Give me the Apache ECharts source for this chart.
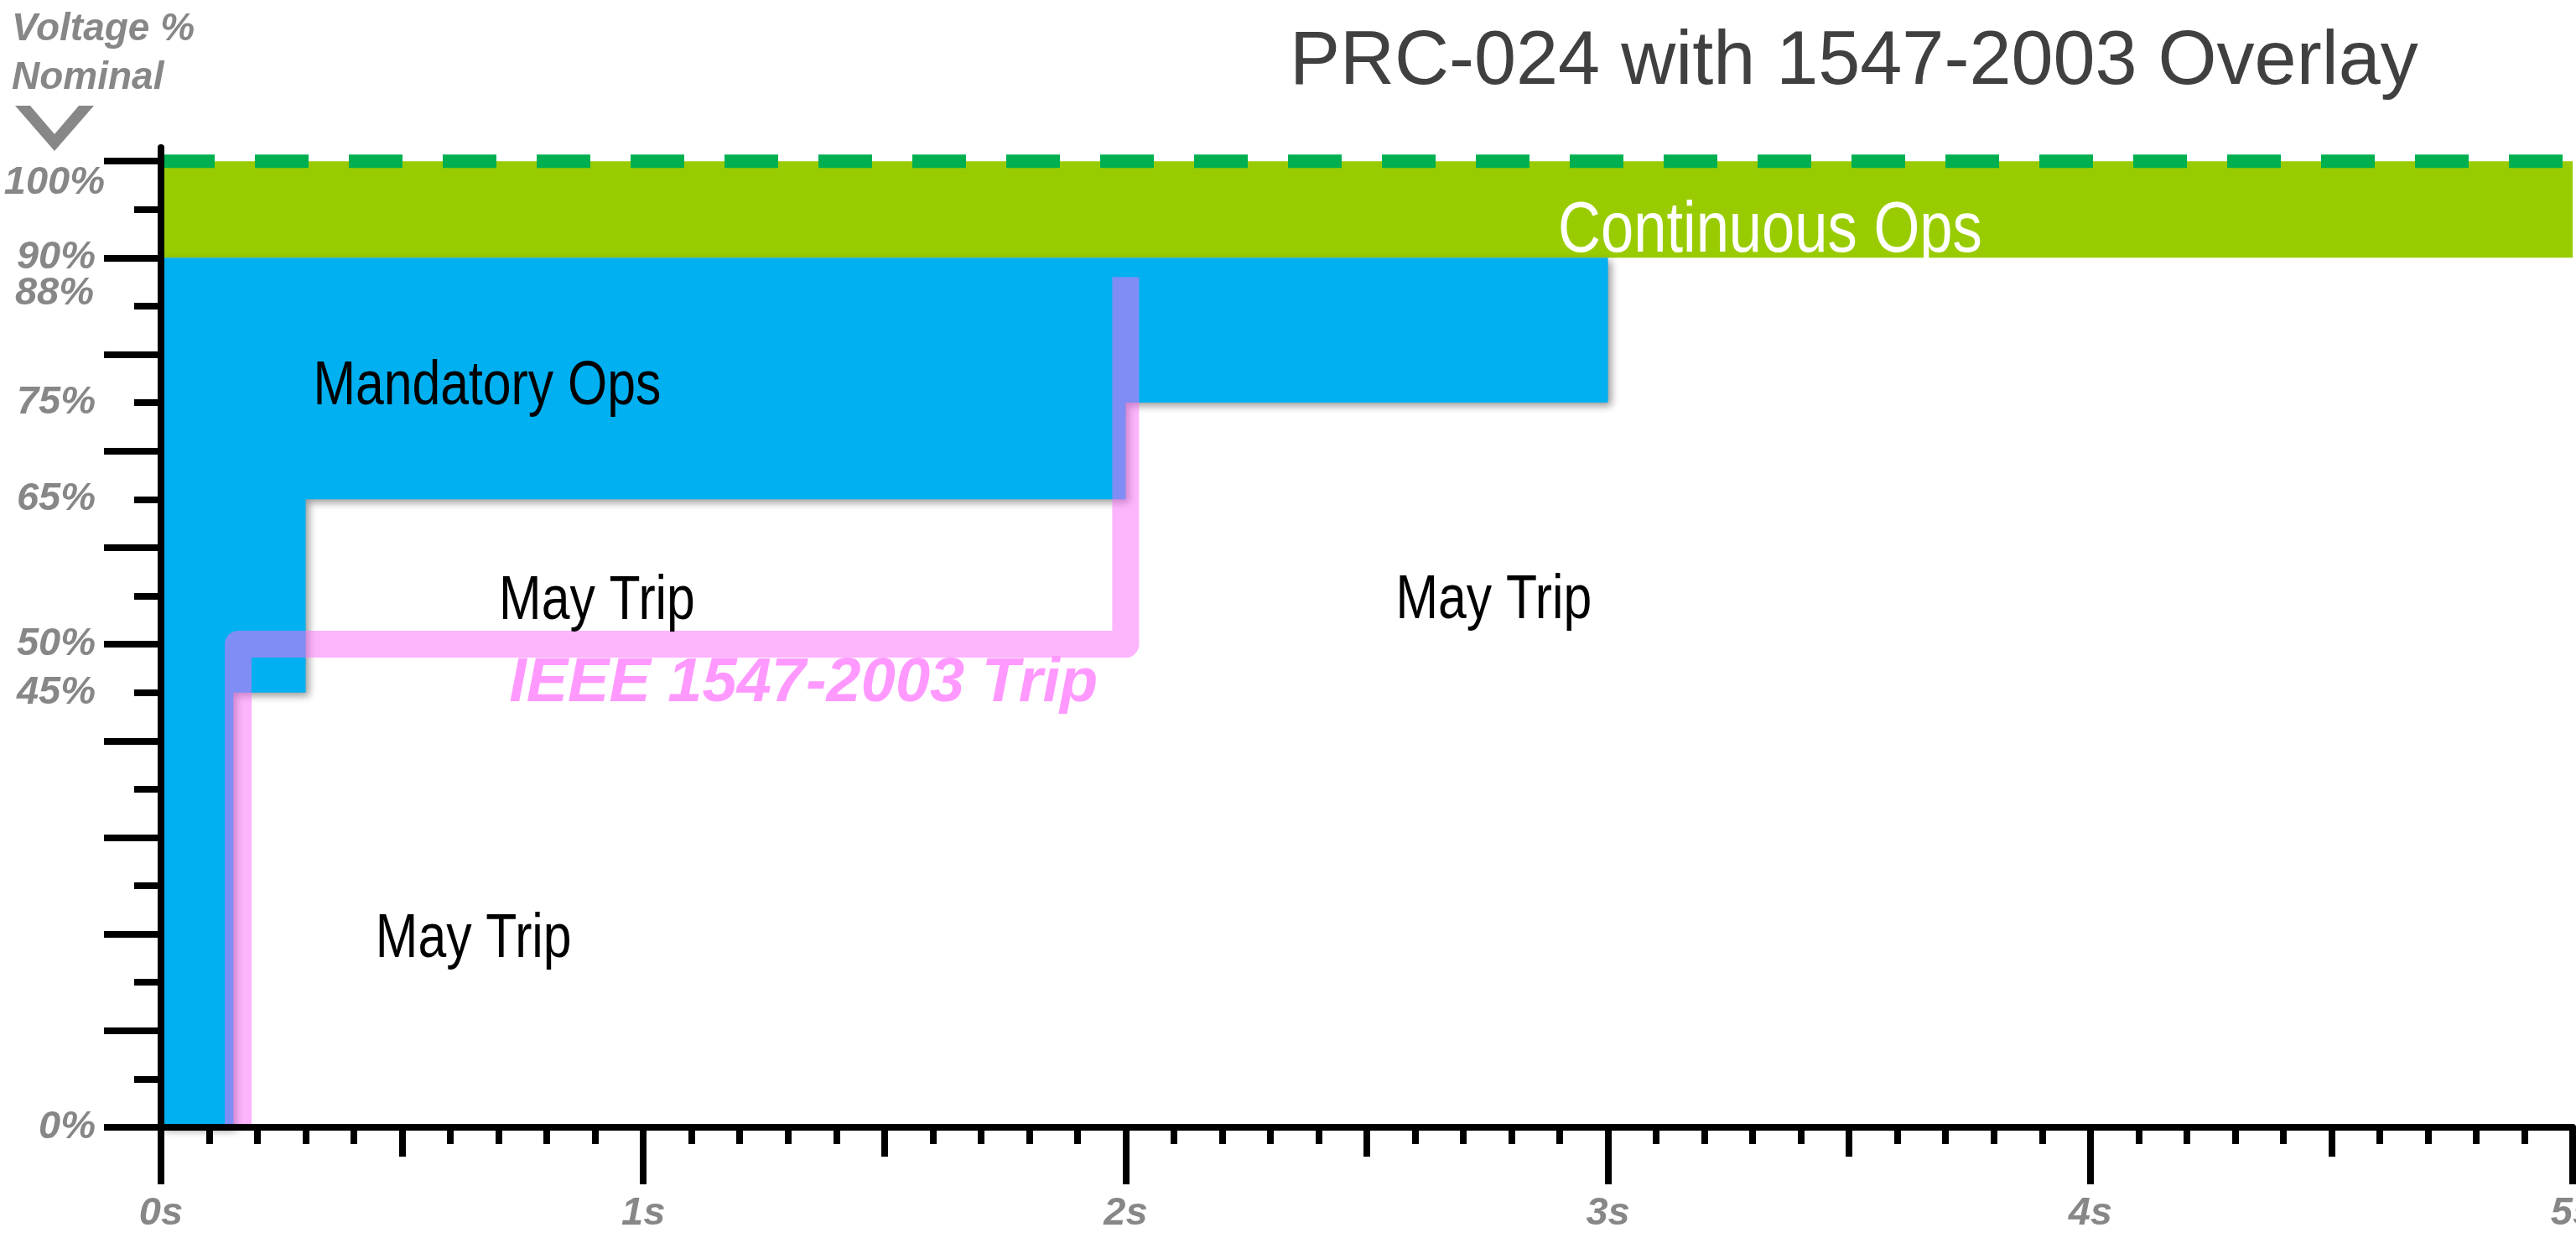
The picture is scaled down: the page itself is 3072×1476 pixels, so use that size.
<!DOCTYPE html>
<html>
<head>
<meta charset="utf-8">
<title>PRC-024 with 1547-2003 Overlay</title>
<script src="https://cdn.jsdelivr.net/npm/echarts@6/dist/echarts.min.js"></script>
<style>
	html, body { margin: 0; padding: 0; background: #fff; }
	#chart { width: 3072px; height: 1476px; }
</style>
</head>
<body>
<div id="chart"></div>
<script>
// 轴刻度
var voltMajorTicks = [0, 10, 20, 30, 40, 50, 60, 70, 80, 90, 100];
var voltMinorTicks = [5, 15, 25, 35, 45, 55, 65, 75, 85, 95];
var voltLabels = [0, 45, 50, 65, 75, 88, 90, 100];

// Continuous Ops 区域
var contTime = [0, 5, 5, 0];
var contVolt = [100, 100, 90, 90];

// Mandatory Ops 区域
var mandTime = [0, 3, 3, 2, 2, 0.3, 0.3, 0.15, 0.15, 0];
var mandVolt = [90, 90, 75, 75, 65, 65, 45, 45, 0, 0];

// IEEE 1547-2003 跳闸曲线
var tripTime = [0.16, 0.16, 2, 2];
var tripVolt = [0, 50, 50, 88];

// 额定电压虚线
var nominalTime = [0, 5];
var nominalVolt = [100, 100];

// 区域文字
var noteText = ['Continuous Ops', 'Mandatory Ops', 'May Trip', 'May Trip', 'May Trip', 'IEEE 1547-2003 Trip'];
var noteTime = [3.336, 0.676, 0.904, 2.763, 0.648, 1.332];
var noteVolt = [92.7, 76.6, 54.4, 54.5, 19.4, 45.9];

var FONT = '"Liberation Sans", Arial, sans-serif';
var GREY = '#878787';

var noteStyle = {
	'Continuous Ops': { fill: '#fff', font: '86px ' + FONT, scaleX: 0.82 },
	'Mandatory Ops': { fill: '#000', font: '74px ' + FONT, scaleX: 0.82 },
	'May Trip': { fill: '#000', font: '74px ' + FONT, scaleX: 0.82 },
	'IEEE 1547-2003 Trip': { fill: '#FF99FF', font: 'italic bold 74px ' + FONT, scaleX: 1.0 }
};

function pairs(xs, ys) {
	return xs.map(function (x, i) { return [x, ys[i]]; });
}

function polygonSeries(times, volts, style, z) {
	return {
		type: 'custom',
		silent: true,
		z: z,
		data: [0],
		renderItem: function (params, api) {
			var pts = times.map(function (t, i) { return api.coord([t, volts[i]]); });
			return { type: 'polygon', shape: { points: pts }, style: style };
		}
	};
}

var labelFont = {
	color: GREY,
	fontSize: 47,
	fontStyle: 'italic',
	fontWeight: 'bold',
	fontFamily: FONT
};

var chart = echarts.init(document.getElementById('chart'));

var option = {
	animation: false,
	backgroundColor: '#fff',
	//网格
	grid: {
		left: 192,
		right: 4,
		top: 176,
		bottom: 132,
		containLabel: false,
		outerBoundsMode: 'none'
	},
	//x轴
	xAxis: [
		{
			type: 'value',
			min: 0,
			max: 5,
			interval: 1,
			position: 'bottom',
			z: 10,
			axisLine: { show: true, onZero: false, lineStyle: { color: '#000', width: 8 } },
			axisTick: { show: true, length: 68, lineStyle: { color: '#000', width: 8 } },
			minorTick: { show: true, splitNumber: 10, length: 20, lineStyle: { color: '#000', width: 8 } },
			axisLabel: Object.assign({
				margin: 80,
				hideOverlap: false,
				formatter: function (v) { return v + 's'; }
			}, labelFont),
			splitLine: { show: false },
			minorSplitLine: { show: false }
		},
		{
			type: 'value',
			min: 0,
			max: 5,
			interval: 0.5,
			position: 'bottom',
			offset: 0,
			z: 9,
			axisLine: { show: false },
			axisTick: { show: true, length: 35, lineStyle: { color: '#000', width: 8 } },
			axisLabel: { show: false },
			splitLine: { show: false }
		}
	],
	//y轴
	yAxis: [
		{
			type: 'value',
			min: 0,
			max: 101.4,
			position: 'left',
			z: 10,
			axisLine: { show: true, onZero: false, lineStyle: { color: '#000', width: 8 } },
			axisTick: { show: true, customValues: voltMajorTicks, length: 68, lineStyle: { color: '#000', width: 8 } },
			axisLabel: Object.assign({
				customValues: voltLabels,
				margin: 67,
				hideOverlap: false,
				formatter: function (v) {
					if (v === 100) return '{a|' + v + '%}';
					if (v === 88) return '{b|' + v + '%}';
					return '{n|' + v + '%}';
				},
				rich: {
					a: Object.assign({ padding: [52, 0, 0, 0] }, labelFont),
					b: Object.assign({ padding: [40, 13, 0, 0] }, labelFont),
					n: Object.assign({ padding: [0, 11, 0, 0] }, labelFont)
				}
			}, labelFont),
			splitLine: { show: false }
		},
		{
			type: 'value',
			min: 0,
			max: 101.4,
			position: 'left',
			offset: 0,
			z: 9,
			axisLine: { show: false },
			axisTick: { show: true, customValues: voltMinorTicks, length: 32, lineStyle: { color: '#000', width: 8 } },
			axisLabel: { show: false },
			splitLine: { show: false }
		}
	],
	graphic: [
		{
			type: 'text', x: 1538, y: 75, silent: true,
			style: {
				text: 'PRC-024 with 1547-2003 Overlay', font: '90px ' + FONT, fill: '#404040',
				textVerticalAlign: 'middle', verticalAlign: 'middle'
			}
		},
		{
			type: 'text', x: 14, y: 35, silent: true,
			style: {
				text: 'Voltage %', font: 'italic bold 46px ' + FONT, fill: GREY,
				textVerticalAlign: 'middle', verticalAlign: 'middle'
			}
		},
		{
			type: 'text', x: 14, y: 93, silent: true,
			style: {
				text: 'Nominal', font: 'italic bold 46px ' + FONT, fill: GREY,
				textVerticalAlign: 'middle', verticalAlign: 'middle'
			}
		},
		{
			type: 'polygon', silent: true,
			shape: { points: [[18, 126], [36, 126], [65, 160], [94, 126], [112, 126], [65, 180]] },
			style: { fill: GREY }
		}
	],
	//系列列表
	series: [
		polygonSeries(contTime, contVolt, { fill: '#99CC00' }, 1),
		polygonSeries(mandTime, mandVolt, {
			fill: '#00B0F0',
			shadowBlur: 10,
			shadowOffsetX: 4,
			shadowOffsetY: 4,
			shadowColor: 'rgba(0,0,0,0.4)'
		}, 2),
		{
			type: 'line',
			silent: true,
			z: 3,
			data: pairs(nominalTime, nominalVolt),
			symbol: 'none',
			lineStyle: { color: '#00B050', width: 16, type: [64, 48], dashOffset: 0, cap: 'butt' }
		},
		{
			type: 'line',
			silent: true,
			z: 4,
			data: pairs(tripTime, tripVolt),
			symbol: 'none',
			lineStyle: { color: 'rgba(249,107,249,0.51)', width: 32, join: 'round', cap: 'butt' }
		},
		{
			type: 'custom',
			silent: true,
			z: 6,
			data: pairs(noteTime, noteVolt),
			renderItem: function (params, api) {
				var p = api.coord([api.value(0), api.value(1)]);
				var txt = noteText[params.dataIndex];
				var s = noteStyle[txt];
				return {
					type: 'text',
					x: p[0],
					y: p[1],
					scaleX: s.scaleX,
					style: {
						text: txt, fill: s.fill, font: s.font,
						textAlign: 'center', textVerticalAlign: 'middle',
						align: 'center', verticalAlign: 'middle'
					}
				};
			}
		}
	]
};

chart.setOption(option);
</script>
</body>
</html>
